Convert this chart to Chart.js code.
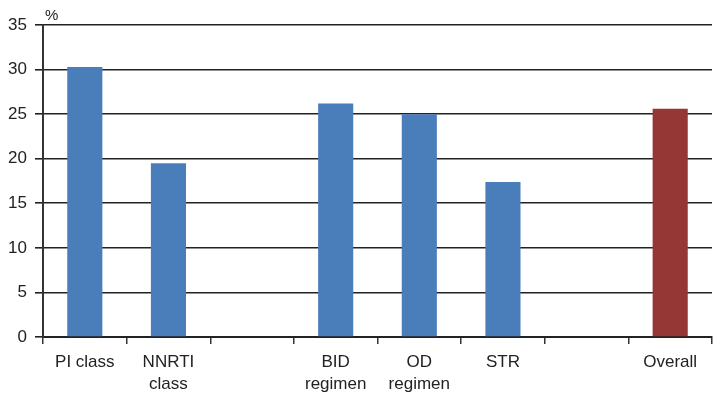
<!DOCTYPE html>
<html>
<head>
<meta charset="utf-8">
<script src="https://cdn.jsdelivr.net/npm/chart.js@4"></script>
<style>
  html, body { margin: 0; padding: 0; background: #fff; }
  #wrap { width: 722px; height: 406px; }
</style>
</head>
<body>
<div id="wrap"><canvas id="grafica"></canvas></div>
<script>
const categorias = [['PI class'], ['NNRTI', 'class'], '', ['BID', 'regimen'], ['OD', 'regimen'], ['STR'], '', ['Overall']];
const valores = [30.3, 19.5, null, 26.2, 25.0, 17.4, null, 25.6];
const colores = ['#4a7ebb', '#4a7ebb', '#4a7ebb', '#4a7ebb', '#4a7ebb', '#4a7ebb', '#4a7ebb', '#953735'];
const ticksY = [0, 5, 10, 15, 20, 25, 30, 35];

// "%" above the y axis
const etiquetaPct = {
  id: 'etiquetaPct',
  afterDraw(chart) {
    const ctx = chart.ctx;
    ctx.save();
    ctx.font = '15px "Liberation Sans", Arial, sans-serif';
    ctx.fillStyle = '#222';
    ctx.textAlign = 'left';
    ctx.textBaseline = 'bottom';
    ctx.fillText('%', chart.chartArea.left + 2, chart.chartArea.top - 2);
    ctx.restore();
  }
};

let grafica = new Chart(document.getElementById('grafica'), {
  type: 'bar',
  data: {
    labels: categorias,
    datasets: [{
      label: '%',
      data: valores,
      backgroundColor: colores,
      categoryPercentage: 1,
      barPercentage: 0.42
    }]
  },
  options: {
    animation: false,
    responsive: true,
    maintainAspectRatio: false,
    layout: { padding: { top: 25, right: 10, left: 0, bottom: 0 } },
    plugins: {
      legend: { display: false },
      tooltip: { enabled: false }
    },
    scales: {
      x: {
        afterFit: (scale) => { scale.height = 69; },
        grid: {
          drawOnChartArea: false,
          drawTicks: true,
          tickLength: 7,
          color: '#333',
          lineWidth: 1.5
        },
        border: { color: '#222', width: 2 },
        ticks: {
          padding: 8,
          color: '#222',
          font: { family: '"Liberation Sans", Arial, sans-serif', size: 17, lineHeight: 1.25 }
        }
      },
      y: {
        min: 0,
        max: 35,
        afterFit: (scale) => { scale.width = 43; },
        afterBuildTicks: (scale) => { scale.ticks = ticksY.map(v => ({ value: v })); },
        grid: {
          color: '#222',
          lineWidth: 1.6,
          tickLength: 8
        },
        border: { color: '#333', width: 2 },
        ticks: {
          padding: 8,
          color: '#222',
          font: { family: '"Liberation Sans", Arial, sans-serif', size: 17 }
        }
      }
    }
  },
  plugins: [etiquetaPct]
});
</script>
</body>
</html>
